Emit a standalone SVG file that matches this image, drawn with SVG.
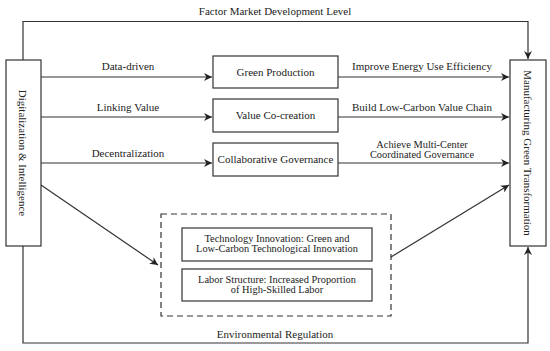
<svg xmlns="http://www.w3.org/2000/svg" width="550" height="351" viewBox="0 0 550 351">
<style>
text{font-family:"Liberation Serif","Times New Roman",serif;font-size:11px;fill:#222;text-anchor:middle}
.sm{font-size:10.4px}
.box{fill:#fff;stroke:#333;stroke-width:1.2}
.ln{fill:none;stroke:#333;stroke-width:1.2}
</style>
<defs>
<marker id="ah" viewBox="0 0 10 10" refX="10" refY="5" markerWidth="8" markerHeight="8" markerUnits="userSpaceOnUse" orient="auto">
<path d="M0,0 L10,5 L0,10 L3,5 Z" fill="#222"/>
</marker>
</defs>
<rect width="550" height="351" fill="#fff"/>
<g id="connectors">
<path class="ln" d="M23,60 V21.5 H528 V59" marker-end="url(#ah)"/>
<path class="ln" d="M23,246 V343 H528 V247" marker-end="url(#ah)"/>
<line class="ln" x1="41" y1="77" x2="212" y2="77" marker-end="url(#ah)"/>
<line class="ln" x1="41" y1="117" x2="212" y2="117" marker-end="url(#ah)"/>
<line class="ln" x1="41" y1="163" x2="212" y2="163" marker-end="url(#ah)"/>
<line class="ln" x1="338" y1="77" x2="509" y2="77" marker-end="url(#ah)"/>
<line class="ln" x1="338" y1="117" x2="509" y2="117" marker-end="url(#ah)"/>
<line class="ln" x1="338" y1="163" x2="509" y2="163" marker-end="url(#ah)"/>
<line class="ln" x1="41" y1="185" x2="158" y2="265" marker-end="url(#ah)"/>
<line class="ln" x1="391" y1="257" x2="509" y2="185" marker-end="url(#ah)"/>
<text x="275" y="15">Factor Market Development Level</text>
<text x="275" y="338">Environmental Regulation</text>
<text x="128" y="70">Data-driven</text>
<text x="128" y="111">Linking Value</text>
<text x="128" y="157">Decentralization</text>
<text x="422" y="70">Improve Energy Use Efficiency</text>
<text x="422" y="111">Build Low-Carbon Value Chain</text>
<text class="sm" x="422" y="148">Achieve Multi-Center</text>
<text class="sm" x="422" y="158">Coordinated Governance</text>
</g>
<g id="left">
<rect class="box" x="6" y="60" width="35" height="186"/>
<text transform="translate(23,153) rotate(90)" dominant-baseline="central">Digitalization &amp; Intelligence</text>
</g>
<g id="right">
<rect class="box" x="510" y="60" width="36" height="186"/>
<text transform="translate(528,153) rotate(90)" dominant-baseline="central">Manufacturing Green Transformation</text>
</g>
<g id="green-production">
<rect class="box" x="213" y="56" width="125" height="32"/>
<text x="275.5" y="76">Green Production</text>
</g>
<g id="value-cocreation">
<rect class="box" x="213" y="99" width="125" height="33"/>
<text x="275.5" y="119">Value Co-creation</text>
</g>
<g id="collaborative-governance">
<rect class="box" x="213" y="143" width="125" height="33"/>
<text x="275.5" y="163">Collaborative Governance</text>
</g>
<g id="mechanisms">
<rect x="161" y="214" width="230" height="102" fill="none" stroke="#333" stroke-width="1.2" stroke-dasharray="6,4"/>
</g>
<g id="technology-innovation">
<rect class="box" x="182" y="228" width="190" height="33"/>
<text class="sm" x="277" y="242">Technology Innovation: Green and</text>
<text class="sm" x="277" y="252">Low-Carbon Technological Innovation</text>
</g>
<g id="labor-structure">
<rect class="box" x="182" y="269" width="190" height="32"/>
<text class="sm" x="277" y="283">Labor Structure: Increased Proportion</text>
<text class="sm" x="277" y="293">of High-Skilled Labor</text>
</g>
</svg>
